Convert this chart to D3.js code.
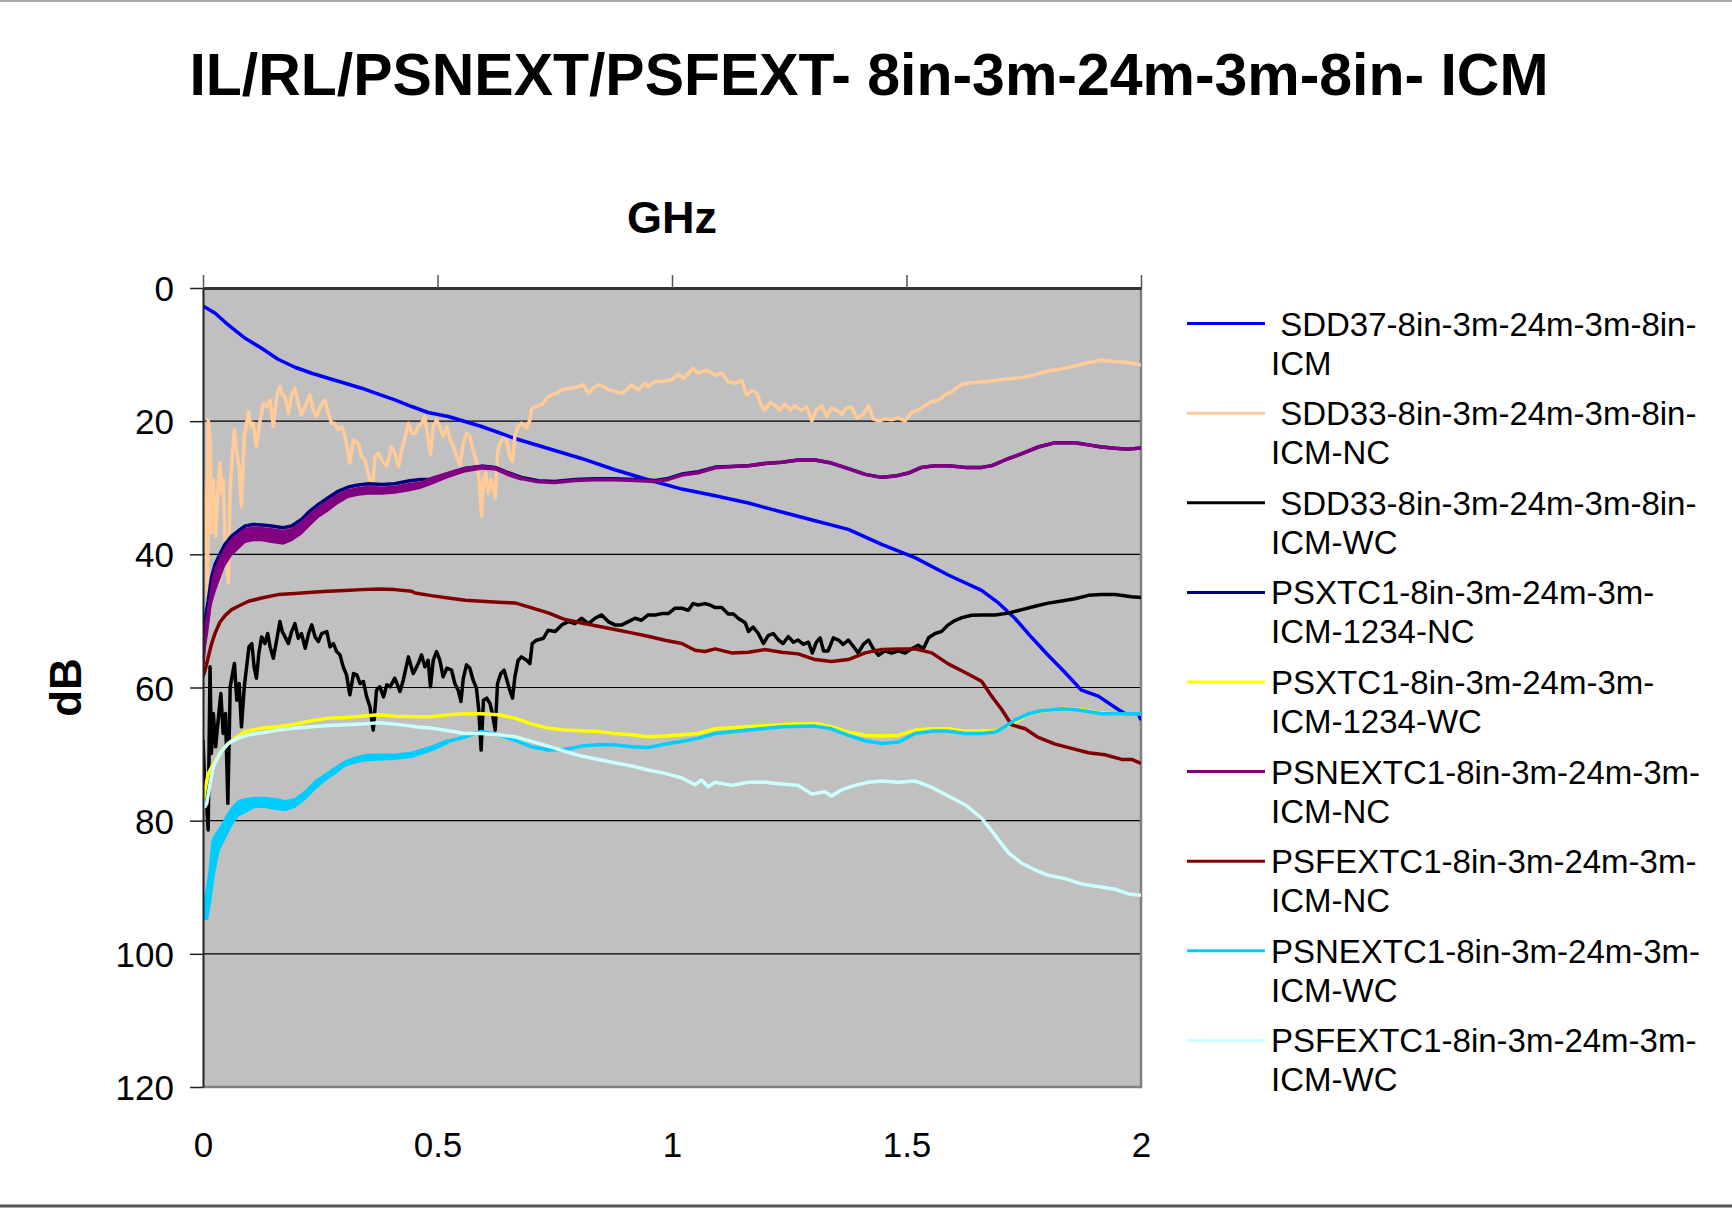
<!DOCTYPE html>
<html>
<head>
<meta charset="utf-8">
<title>IL/RL/PSNEXT/PSFEXT- 8in-3m-24m-3m-8in- ICM</title>
<script src="https://cdn.jsdelivr.net/npm/d3@7"></script>
<style>
  html, body { margin: 0; padding: 0; background: #ffffff; }
  svg { display: block; font-family: "Liberation Sans", Arial, sans-serif; }
  .legend text { white-space: pre; }
</style>
</head>
<body>
<svg id="chart" width="1732" height="1209"></svg>
<script>
// Chart texts
const chartTitle = "IL/RL/PSNEXT/PSFEXT- 8in-3m-24m-3m-8in- ICM";
const xTitle = "GHz";
const yTitle = "dB";
const xTicks = [0, 0.5, 1, 1.5, 2];
const yTicks = [0, 20, 40, 60, 80, 100, 120];

// Series values: [GHz, dB]
const sdd37Pts = [[0,2.7],[0.026,3.8],[0.054,5.55],[0.09,7.55],[0.125,9.05],[0.16,10.7],[0.196,11.9],[0.232,12.8],[0.267,13.55],[0.303,14.3],[0.338,15.05],[0.374,15.95],[0.409,16.8],[0.445,17.8],[0.48,18.7],[0.523,19.3],[0.594,20.8],[0.665,22.6],[0.736,24.1],[0.807,25.6],[0.878,27.3],[0.949,28.8],[1.021,30.2],[1.092,31.2],[1.163,32.3],[1.234,33.65],[1.305,34.95],[1.376,36.25],[1.447,38.5],[1.518,40.5],[1.589,43.1],[1.66,45.4],[1.696,47.3],[1.731,49.6],[1.767,52.5],[1.802,55.15],[1.838,57.75],[1.873,60.4],[1.909,61.3],[1.945,63.0],[1.966,63.95],[1.994,63.95],[2.0,64.9]];

const sdd33NcPts = [[0,28.3],[0.006,33.8],[0.010,46.3],[0.011,19.8],[0.015,22.3],[0.018,36.8],[0.022,28.8],[0.027,37.3],[0.033,28.8],[0.036,26.3],[0.040,30.8],[0.043,28.8],[0.047,37.8],[0.054,44.3],[0.058,29.8],[0.063,24.8],[0.067,21.3],[0.072,24.8],[0.077,26.8],[0.082,32.8],[0.088,22.3],[0.093,20.3],[0.097,18.55],[0.102,20.8],[0.107,20.3],[0.114,23.8],[0.122,19.8],[0.129,17.3],[0.136,17.8],[0.143,16.8],[0.150,20.8],[0.157,16.3],[0.164,14.8],[0.169,16.05],[0.175,16.3],[0.182,18.8],[0.189,16.05],[0.196,15.05],[0.203,17.3],[0.210,19.05],[0.218,17.8],[0.228,16.05],[0.235,18.3],[0.242,19.3],[0.250,17.8],[0.260,16.8],[0.267,18.8],[0.274,20.3],[0.281,20.3],[0.289,21.3],[0.296,20.8],[0.303,22.3],[0.313,26.3],[0.321,22.8],[0.331,23.3],[0.338,25.3],[0.345,25.8],[0.353,28.05],[0.360,30.8],[0.367,25.3],[0.374,24.8],[0.381,25.8],[0.392,26.8],[0.402,23.8],[0.409,24.8],[0.417,26.8],[0.424,24.3],[0.431,22.3],[0.438,20.3],[0.445,21.8],
  [0.452,21.8],[0.459,20.8],[0.466,20.3],[0.473,19.3],[0.480,22.8],[0.485,25.05],[0.491,20.8],[0.498,19.8],[0.505,20.8],[0.512,22.3],[0.520,20.8],[0.527,22.8],[0.534,23.8],[0.541,25.3],[0.548,26.55],[0.555,23.3],[0.562,21.8],[0.569,22.3],[0.576,24.3],[0.583,26.05],[0.589,28.8],[0.594,34.3],[0.598,28.8],[0.603,27.8],[0.608,30.8],[0.614,28.8],[0.619,30.3],[0.623,31.55],[0.628,24.8],[0.633,23.3],[0.640,22.55],[0.647,22.8],[0.655,25.55],[0.660,26.05],[0.665,22.3],[0.672,20.8],[0.679,20.3],[0.690,21.05],[0.697,19.8],[0.701,18.05],[0.711,17.8],[0.722,17.55],[0.733,16.55],[0.743,16.05],[0.754,15.8],[0.765,15.3],[0.779,15.05],[0.790,15.05],[0.800,14.8],[0.811,14.55],[0.822,15.8],[0.832,15.05],[0.843,14.55],[0.854,14.8],[0.864,15.3],[0.878,15.55],[0.893,15.8],[0.903,15.3],[0.914,14.55],[0.928,15.3],[0.942,14.3],[0.949,14.8],[0.964,14.05],[0.981,14.05],[0.999,13.8],[1.013,12.95],[1.024,13.55],[1.035,12.8],[1.045,12.05],[1.056,12.8],[1.070,12.4],[1.081,12.55],
  [1.092,13.13],[1.106,12.8],[1.12,14.1],[1.134,14.3],[1.149,13.9],[1.159,16.06],[1.17,15.4],[1.18,15.7],[1.191,17.69],[1.198,18.34],[1.209,17.17],[1.22,17.69],[1.23,18.34],[1.241,17.4],[1.252,18.34],[1.262,17.69],[1.276,18.34],[1.287,17.82],[1.298,19.97],[1.308,18.34],[1.319,17.69],[1.33,19.3],[1.34,18.0],[1.351,18.34],[1.362,18.99],[1.372,18.0],[1.383,17.9],[1.394,19.5],[1.408,18.99],[1.419,17.69],[1.429,19.65],[1.44,19.97],[1.454,19.65],[1.468,19.8],[1.483,19.5],[1.497,19.97],[1.511,18.67],[1.525,18.34],[1.539,17.69],[1.554,17.04],[1.568,16.9],[1.582,16.06],[1.596,15.6],[1.618,14.43],[1.639,14.24],[1.66,14.1],[1.689,13.9],[1.717,13.65],[1.746,13.46],[1.774,13.0],[1.802,12.48],[1.831,12.15],[1.859,11.7],[1.888,11.18],[1.916,10.85],[1.945,11.05],[1.973,11.18],[2.0,11.57]];

const sdd33WcPts = [[0,67.9],[0.004,74.9],[0.008,77.9],[0.011,81.4],[0.015,56.9],[0.018,69.9],[0.022,63.9],[0.027,68.9],[0.033,64.4],[0.038,60.9],[0.043,66.9],[0.048,63.9],[0.053,77.4],[0.058,59.9],[0.063,57.9],[0.067,56.4],[0.072,61.9],[0.077,59.4],[0.082,65.9],[0.088,59.9],[0.093,56.9],[0.098,53.9],[0.104,53.4],[0.109,56.9],[0.114,58.6],[0.119,54.9],[0.125,52.4],[0.132,53.4],[0.138,51.9],[0.143,53.9],[0.150,55.6],[0.157,52.9],[0.164,50.1],[0.169,51.6],[0.175,52.4],[0.182,53.4],[0.189,51.6],[0.196,50.4],[0.203,52.6],[0.210,51.9],[0.218,54.1],[0.225,51.9],[0.232,50.6],[0.239,52.4],[0.246,53.1],[0.253,51.9],[0.264,51.6],[0.271,53.9],[0.278,53.4],[0.285,54.6],[0.292,55.1],[0.299,56.9],[0.306,58.1],[0.313,61.1],[0.321,57.9],[0.328,58.1],[0.335,59.4],[0.342,59.1],[0.349,61.4],[0.356,62.9],[0.363,66.4],[0.370,60.4],[0.377,59.9],[0.385,61.4],[0.392,59.6],[0.399,59.9],[0.409,58.6],[0.420,60.6],[0.427,58.9],[0.438,55.4],[0.448,57.9],
  [0.452,57.4],[0.459,56.4],[0.466,55.1],[0.473,56.9],[0.480,55.9],[0.485,59.9],[0.491,55.9],[0.498,54.6],[0.505,55.9],[0.512,58.4],[0.520,57.1],[0.530,57.4],[0.537,59.4],[0.544,60.4],[0.550,62.1],[0.555,58.6],[0.562,56.6],[0.569,57.1],[0.576,58.9],[0.583,60.1],[0.588,63.4],[0.593,69.4],[0.598,61.9],[0.605,61.6],[0.612,62.4],[0.617,63.9],[0.623,66.4],[0.628,59.4],[0.635,57.9],[0.642,57.4],[0.650,59.4],[0.655,60.6],[0.660,61.6],[0.665,58.4],[0.672,55.9],[0.679,55.4],[0.690,55.9],[0.697,56.4],[0.702,53.4],[0.711,52.9],[0.726,52.6],[0.736,51.4],[0.751,51.6],[0.765,50.6],[0.779,50.1],[0.793,50.4],[0.807,49.6],[0.822,50.4],[0.836,49.6],[0.850,49.1],[0.864,50.1],[0.878,50.6],[0.893,50.6],[0.907,50.1],[0.921,49.6],[0.935,49.9],[0.949,49.1],[0.964,49.1],[0.978,48.9],[0.992,48.9],[1.006,48.1],[1.021,48.1],[1.035,48.4],[1.045,47.4],[1.056,47.6],[1.070,47.4],[1.081,47.6],
  [1.092,48.0],[1.106,47.98],[1.12,48.96],[1.131,48.96],[1.141,49.6],[1.156,50.26],[1.163,51.57],[1.173,50.92],[1.184,51.89],[1.195,53.39],[1.205,52.22],[1.216,51.89],[1.227,52.87],[1.237,53.39],[1.248,52.35],[1.259,53.2],[1.269,52.87],[1.28,53.52],[1.291,53.2],[1.299,54.82],[1.308,53.2],[1.316,52.54],[1.323,54.5],[1.333,54.5],[1.344,52.54],[1.355,52.87],[1.365,53.52],[1.376,52.87],[1.387,53.85],[1.397,54.82],[1.408,53.52],[1.419,52.87],[1.429,54.17],[1.44,55.15],[1.454,54.5],[1.468,54.82],[1.483,54.5],[1.497,54.82],[1.511,54.17],[1.525,53.65],[1.536,54.17],[1.547,52.54],[1.561,51.89],[1.575,51.57],[1.589,50.59],[1.603,49.94],[1.618,49.5],[1.639,49.16],[1.66,49.1],[1.689,49.1],[1.717,48.83],[1.746,48.31],[1.774,47.79],[1.802,47.33],[1.831,47.0],[1.859,46.68],[1.888,46.16],[1.916,46.03],[1.945,46.03],[1.98,46.36],[2.0,46.49]];

const psxtNcPts = [[0,54.7],[0.004,50.0],[0.011,47.0],[0.018,43.5],[0.026,41.5],[0.036,40.0],[0.047,38.5],[0.061,37.25],[0.075,36.5],[0.09,35.75],[0.107,35.5],[0.125,35.6],[0.146,35.75],[0.171,36.0],[0.189,35.75],[0.21,34.75],[0.228,33.5],[0.246,32.5],[0.267,31.5],[0.289,30.5],[0.31,29.9],[0.331,29.6],[0.353,29.4],[0.381,29.5],[0.409,29.4],[0.438,29.0],[0.463,28.75],[0.488,28.75],[0.523,27.9],[0.559,27.1],[0.594,26.75],[0.623,26.95],[0.651,27.75],[0.679,28.45],[0.715,28.95],[0.75,29.05],[0.793,28.75],[0.836,28.65],[0.878,28.65],[0.921,28.75],[0.964,28.9],[0.992,28.6],[1.021,27.95],[1.056,27.6],[1.092,26.9],[1.127,26.81],[1.163,26.68],[1.198,26.36],[1.234,26.16],[1.269,25.83],[1.305,25.83],[1.34,26.29],[1.376,27.14],[1.412,27.99],[1.447,28.44],[1.476,28.25],[1.504,27.79],[1.532,26.94],[1.561,26.68],[1.589,26.68],[1.625,26.94],[1.66,26.94],[1.682,26.68],[1.71,25.83],[1.746,24.86],[1.781,23.88],[1.817,23.23],[1.859,23.23],[1.888,23.56],[1.916,23.88],[1.945,24.08],[1.973,24.2],[2.0,24.01]];

const psxtWcPts = [[0,77.5],[0.004,75.5],[0.011,73.0],[0.018,72.0],[0.027,71.0],[0.04,69.5],[0.054,68.4],[0.075,67.3],[0.09,66.6],[0.125,66.1],[0.16,65.9],[0.196,65.5],[0.232,65.0],[0.267,64.6],[0.303,64.5],[0.338,64.3],[0.374,64.1],[0.409,64.3],[0.445,64.4],[0.487,64.4],[0.523,64.1],[0.559,63.96],[0.594,63.96],[0.63,64.1],[0.665,64.6],[0.701,65.5],[0.736,66.1],[0.772,66.4],[0.807,66.5],[0.843,66.6],[0.878,66.9],[0.914,67.1],[0.949,67.4],[0.985,67.3],[1.021,67.1],[1.056,66.9],[1.092,66.2],[1.163,65.9],[1.234,65.57],[1.305,65.4],[1.34,65.9],[1.376,66.7],[1.412,67.2],[1.447,67.3],[1.483,67.2],[1.518,66.4],[1.554,66.2],[1.589,66.2],[1.625,66.55],[1.66,66.55],[1.689,66.55],[1.71,65.9],[1.731,65.25],[1.76,63.95],[1.802,63.4],[1.838,63.1],[1.873,63.3],[1.909,63.8],[1.945,63.95],[2.0,63.95]];

const psnextNcPts = [[0,56.5],[0.004,52.65],[0.011,49.55],[0.018,45.8],[0.026,43.8],[0.036,42.05],[0.047,40.3],[0.061,38.9],[0.075,38.05],[0.09,37.2],[0.107,36.9],[0.125,37.0],[0.146,37.2],[0.171,37.4],[0.189,37.05],[0.21,36.05],[0.228,34.8],[0.246,33.7],[0.267,32.7],[0.289,31.6],[0.31,30.9],[0.331,30.55],[0.353,30.4],[0.381,30.4],[0.409,30.3],[0.438,29.9],[0.463,29.6],[0.488,28.9],[0.523,28.05],[0.559,27.25],[0.594,26.9],[0.623,27.1],[0.651,27.9],[0.679,28.6],[0.715,29.1],[0.75,29.2],[0.793,28.9],[0.836,28.8],[0.878,28.8],[0.921,28.9],[0.964,29.05],[0.992,28.75],[1.021,28.1],[1.056,27.75],[1.092,27.0],[1.127,26.81],[1.163,26.68],[1.198,26.36],[1.234,26.16],[1.269,25.83],[1.305,25.83],[1.34,26.29],[1.376,27.14],[1.412,27.99],[1.447,28.44],[1.476,28.25],[1.504,27.79],[1.532,26.94],[1.561,26.68],[1.589,26.68],[1.625,26.94],[1.66,26.94],[1.682,26.68],[1.71,25.83],[1.746,24.86],[1.781,23.88],[1.817,23.23],[1.859,23.23],[1.888,23.56],[1.916,23.88],[1.945,24.08],[1.973,24.2],[2.0,24.01]];

const psfextNcPts = [[0,58.4],[0.004,57.5],[0.011,55.5],[0.018,53.5],[0.026,51.8],[0.036,50.2],[0.047,49.2],[0.061,48.3],[0.075,47.8],[0.097,47.05],[0.125,46.55],[0.16,46.05],[0.196,45.9],[0.232,45.7],[0.267,45.55],[0.303,45.45],[0.338,45.3],[0.374,45.2],[0.409,45.3],[0.445,45.55],[0.452,45.8],[0.487,46.2],[0.523,46.55],[0.559,46.9],[0.594,47.05],[0.63,47.2],[0.665,47.3],[0.701,48.05],[0.736,48.8],[0.772,49.8],[0.807,50.3],[0.843,50.8],[0.878,51.3],[0.914,51.8],[0.949,52.3],[0.985,52.9],[1.021,53.4],[1.049,54.4],[1.07,54.6],[1.092,54.2],[1.127,54.8],[1.163,54.7],[1.198,54.3],[1.234,54.7],[1.269,54.95],[1.305,55.8],[1.34,56.1],[1.376,55.8],[1.412,54.8],[1.447,54.3],[1.483,54.2],[1.518,54.2],[1.554,54.8],[1.589,56.45],[1.625,57.75],[1.66,59.06],[1.682,61.34],[1.703,63.3],[1.724,65.6],[1.753,66.2],[1.781,67.5],[1.817,68.5],[1.852,69.15],[1.888,69.8],[1.923,70.1],[1.959,70.8],[1.98,70.8],[2.0,71.4]];

const psnextWcPts = [[0,94.0],[0.004,93.0],[0.011,91.5],[0.018,87.5],[0.026,85.0],[0.036,82.6],[0.047,81.2],[0.061,79.4],[0.075,78.2],[0.09,77.7],[0.111,77.3],[0.132,77.3],[0.154,77.5],[0.175,77.8],[0.196,77.4],[0.218,76.2],[0.239,74.7],[0.26,73.5],[0.281,72.5],[0.303,71.4],[0.324,70.9],[0.345,70.6],[0.374,70.5],[0.409,70.4],[0.445,70.1],[0.452,69.9],[0.487,69.1],[0.523,68.1],[0.559,67.4],[0.594,66.6],[0.63,67.1],[0.665,67.9],[0.701,68.9],[0.736,69.4],[0.772,69.3],[0.807,68.8],[0.843,68.6],[0.878,68.6],[0.914,68.9],[0.949,69.0],[0.985,68.5],[1.021,68.1],[1.056,67.6],[1.092,66.9],[1.163,66.4],[1.234,65.9],[1.305,65.8],[1.34,66.2],[1.376,67.2],[1.412,68.0],[1.447,68.4],[1.483,68.2],[1.518,66.9],[1.554,66.55],[1.589,66.55],[1.625,66.9],[1.66,66.9],[1.689,66.7],[1.71,65.9],[1.731,64.9],[1.76,63.95],[1.788,63.5],[1.831,63.2],[1.859,63.3],[1.888,63.6],[1.916,63.95],[1.945,63.95],[1.98,63.95],[2.0,63.95]];

const psfextWcPts = [[0,77.0],[0.004,77.9],[0.008,77.4],[0.015,74.4],[0.022,71.9],[0.036,69.9],[0.054,68.4],[0.075,67.6],[0.097,67.1],[0.125,66.8],[0.16,66.4],[0.196,66.1],[0.232,65.9],[0.267,65.7],[0.303,65.6],[0.338,65.5],[0.374,65.3],[0.409,65.5],[0.445,65.8],[0.452,65.9],[0.487,66.1],[0.523,66.5],[0.559,66.9],[0.594,66.9],[0.63,67.1],[0.665,67.4],[0.701,68.1],[0.736,68.8],[0.772,69.6],[0.807,70.3],[0.843,70.8],[0.878,71.3],[0.914,71.8],[0.949,72.4],[0.985,72.9],[1.021,73.6],[1.049,74.6],[1.063,73.9],[1.077,74.9],[1.092,74.24],[1.127,74.7],[1.163,74.24],[1.198,74.24],[1.234,74.5],[1.269,74.7],[1.298,76.0],[1.326,75.67],[1.34,76.3],[1.362,75.35],[1.39,74.7],[1.419,74.24],[1.447,74.04],[1.483,74.24],[1.518,74.04],[1.554,75.0],[1.589,76.3],[1.625,77.6],[1.66,79.6],[1.689,82.2],[1.717,84.8],[1.746,86.4],[1.774,87.4],[1.802,88.2],[1.838,88.7],[1.873,89.5],[1.909,89.9],[1.945,90.3],[1.973,91.0],[2.0,91.2]];

// Low-frequency spread of the dense NEXT traces: [GHz, upper dB, lower dB]
const psnextNcBand = [[0,55,58],[0.004,50.3,55],[0.011,47.3,51.8],[0.018,43.8,47.8],[0.026,41.8,45.8],[0.036,40.3,43.8],[0.047,38.8,41.8],[0.061,37.55,40.3],[0.075,36.8,39.3],[0.09,36.05,38.3],[0.107,35.8,38.05],[0.125,35.9,38.05],[0.146,36.05,38.3],[0.171,36.3,38.55],[0.189,36.05,38.05],[0.21,35.05,37.05],[0.228,33.8,35.8],[0.246,32.8,34.55],[0.267,31.8,33.55],[0.289,30.8,32.4],[0.31,30.2,31.55],[0.331,29.9,31.2],[0.353,29.7,31.05],[0.381,29.8,31.05],[0.409,29.7,30.9],[0.438,29.3,30.55],[0.463,29.05,30.2],[0.488,28.3,29.55],[0.523,27.55,28.55],[0.559,26.8,27.7],[0.594,26.55,27.3],[0.623,26.8,27.4],[0.651,27.55,28.3],[0.679,28.3,28.95]];

const psnextWcBand = [[0,93.0,95.5],[0.004,90.9,94.9],[0.011,87.9,94.9],[0.018,82.9,91.9],[0.026,81.9,87.9],[0.036,80.9,84.4],[0.047,79.4,82.9],[0.061,77.9,80.9],[0.075,76.9,79.4],[0.09,76.6,78.9],[0.111,76.4,78.1],[0.132,76.4,78.1],[0.154,76.6,78.4],[0.175,76.9,78.6],[0.196,76.6,78.1],[0.218,75.4,76.9],[0.239,73.9,75.4],[0.26,72.9,74.1],[0.281,71.9,73.1],[0.303,70.9,71.9],[0.324,70.4,71.4],[0.345,70.0,71.1],[0.374,69.9,71.0],[0.409,69.9,70.9],[0.445,69.6,70.6],[0.487,68.7,69.6],[0.523,67.7,68.5]];

// Series definitions (legend order = drawing order)
const seriesList = [
  { label: [" SDD37-8in-3m-24m-3m-8in-", "ICM"], color: "#0000FF", pts: sdd37Pts },
  { label: [" SDD33-8in-3m-24m-3m-8in-", "ICM-NC"], color: "#FFCC99", pts: sdd33NcPts },
  { label: [" SDD33-8in-3m-24m-3m-8in-", "ICM-WC"], color: "#000000", pts: sdd33WcPts },
  { label: ["PSXTC1-8in-3m-24m-3m-", "ICM-1234-NC"], color: "#000080", pts: psxtNcPts },
  { label: ["PSXTC1-8in-3m-24m-3m-", "ICM-1234-WC"], color: "#FFFF00", pts: psxtWcPts },
  { label: ["PSNEXTC1-8in-3m-24m-3m-", "ICM-NC"], color: "#800080", pts: psnextNcPts, band: psnextNcBand },
  { label: ["PSFEXTC1-8in-3m-24m-3m-", "ICM-NC"], color: "#800000", pts: psfextNcPts },
  { label: ["PSNEXTC1-8in-3m-24m-3m-", "ICM-WC"], color: "#00CCFF", pts: psnextWcPts, band: psnextWcBand },
  { label: ["PSFEXTC1-8in-3m-24m-3m-", "ICM-WC"], color: "#CCFFFF", pts: psfextWcPts }
];

// Layout
const config = {
  plot: { left: 203, top: 288, right: 1141, bottom: 1087 },
  legend: { x1: 1187, x2: 1265, textX: 1271, top: 323.6, step: 89.6, lineGap: 39 },
  font: "'Liberation Sans', Arial, sans-serif",
  lineWidth: 3.5
};

const svg = d3.select("#chart");
const x = d3.scaleLinear().domain([0, 2]).range([config.plot.left, config.plot.right]);
const y = d3.scaleLinear().domain([0, 120]).range([config.plot.top, config.plot.bottom]);

function drawFrame() {
  svg.append("line")
    .attr("x1", 0).attr("x2", 1732).attr("y1", 1).attr("y2", 1)
    .attr("stroke", "#a8a8a8").attr("stroke-width", 2);
  svg.append("line")
    .attr("x1", 0).attr("x2", 1732).attr("y1", 1206).attr("y2", 1206)
    .attr("stroke", "#555555").attr("stroke-width", 3);
}

function drawPlotArea() {
  const p = config.plot;
  svg.append("defs").append("clipPath").attr("id", "plot-clip")
    .append("rect")
    .attr("x", p.left).attr("y", p.top)
    .attr("width", p.right - p.left).attr("height", p.bottom - p.top);

  svg.append("rect")
    .attr("x", p.left).attr("y", p.top)
    .attr("width", p.right - p.left).attr("height", p.bottom - p.top)
    .attr("fill", "#C0C0C0");

  // horizontal gridlines
  svg.append("g").selectAll("line")
    .data(yTicks.filter(d => d > 0 && d < 120))
    .enter().append("line")
    .attr("x1", p.left).attr("x2", p.right)
    .attr("y1", d => y(d)).attr("y2", d => y(d))
    .attr("stroke", "#000").attr("stroke-width", 1.2);

  // right and bottom border
  svg.append("path")
    .attr("d", `M${p.right},${p.top}V${p.bottom}H${p.left}`)
    .attr("fill", "none").attr("stroke", "#808080").attr("stroke-width", 2.5);
}

function drawSeries() {
  const line = d3.line().x(d => x(d[0])).y(d => y(d[1]));
  const band = d3.area().x(d => x(d[0])).y0(d => y(d[2])).y1(d => y(d[1]));
  const g = svg.append("g").attr("clip-path", "url(#plot-clip)");

  seriesList.forEach(s => {
    if (s.band) {
      g.append("path").datum(s.band)
        .attr("fill", s.color)
        .attr("d", band);
    }
    g.append("path").datum(s.pts)
      .attr("fill", "none")
      .attr("stroke", s.color)
      .attr("stroke-width", config.lineWidth)
      .attr("stroke-linejoin", "round")
      .attr("d", line);
  });
}

function drawAxes() {
  const p = config.plot;

  // y axis with labels on the left
  const yAxis = svg.append("g")
    .attr("transform", `translate(${p.left},0)`)
    .call(d3.axisLeft(y).tickValues(yTicks).tickSize(13).tickSizeOuter(0).tickPadding(16));
  yAxis.attr("font-family", config.font).attr("font-size", 35);
  yAxis.select(".domain").attr("stroke", "#222").attr("stroke-width", 2);
  yAxis.selectAll(".tick line").attr("stroke", "#222").attr("stroke-width", 1.5);
  yAxis.selectAll(".tick text").attr("fill", "#000").attr("dy", "0.36em");

  // x axis line and ticks at the top (0 dB)
  const xAxis = svg.append("g")
    .attr("transform", `translate(0,${p.top})`)
    .call(d3.axisTop(x).tickValues(xTicks).tickSize(13).tickSizeOuter(0).tickFormat(""));
  xAxis.select(".domain").attr("stroke", "#333").attr("stroke-width", 3);
  xAxis.selectAll(".tick line").attr("stroke", "#555").attr("stroke-width", 1.5);

  // x labels below the plot
  const xLabels = svg.append("g")
    .attr("transform", `translate(0,${p.bottom})`)
    .call(d3.axisBottom(x).tickValues(xTicks).tickSize(0).tickPadding(45).tickFormat(d3.format("")));
  xLabels.attr("font-family", config.font).attr("font-size", 35);
  xLabels.select(".domain").remove();
  xLabels.selectAll(".tick text").attr("fill", "#000");
}

function drawTitles() {
  svg.append("text")
    .attr("x", 869).attr("y", 95)
    .attr("text-anchor", "middle")
    .attr("font-size", 60).attr("font-weight", "bold")
    .attr("textLength", 1359).attr("lengthAdjust", "spacingAndGlyphs")
    .text(chartTitle);

  svg.append("text")
    .attr("x", (config.plot.left + config.plot.right) / 2).attr("y", 233)
    .attr("text-anchor", "middle")
    .attr("font-size", 45).attr("font-weight", "bold")
    .text(xTitle);

  svg.append("text")
    .attr("transform", `translate(81,${(config.plot.top + config.plot.bottom) / 2}) rotate(-90)`)
    .attr("text-anchor", "middle")
    .attr("font-size", 44).attr("font-weight", "bold")
    .text(yTitle);
}

function drawLegend() {
  const L = config.legend;
  const items = svg.append("g").attr("class", "legend")
    .selectAll("g")
    .data(seriesList)
    .enter().append("g")
    .attr("transform", (d, i) => `translate(0,${L.top + i * L.step})`);

  items.append("line")
    .attr("x1", L.x1).attr("x2", L.x2)
    .attr("stroke", d => d.color).attr("stroke-width", 3);

  const txt = items.append("text")
    .attr("x", L.textX).attr("y", 12)
    .attr("font-size", 33);
  txt.append("tspan").attr("x", L.textX).text(d => d.label[0]);
  txt.append("tspan").attr("x", L.textX).attr("dy", L.lineGap).text(d => d.label[1]);
}

drawFrame();
drawPlotArea();
drawSeries();
drawAxes();
drawTitles();
drawLegend();
</script>
</body>
</html>
